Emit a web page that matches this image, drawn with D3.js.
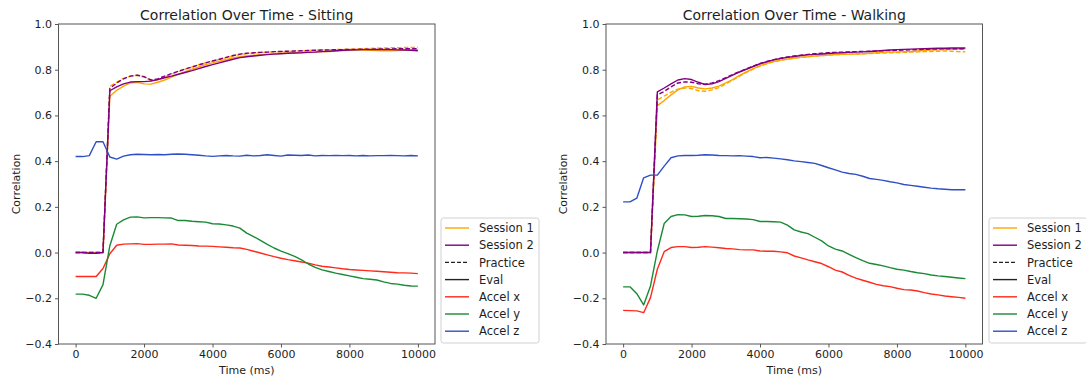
<!DOCTYPE html>
<html>
<head>
<meta charset="utf-8">
<script src="https://cdn.jsdelivr.net/npm/d3@7"></script>
<style>
  body { margin: 0; background: #fff; }
  svg { display: block; font-family: "DejaVu Sans", sans-serif; }
</style>
</head>
<body>
<svg id="chart" width="1086" height="381"></svg>
<script>
// ---------------- DATA ----------------
const timeMs = [0,200,400,600,800,1000,1200,1400,1600,1800,2000,2200,2400,2600,2800,3000,3200,3400,3600,3800,4000,4200,4400,4600,4800,5000,5200,5400,5600,5800,6000,6200,6400,6600,6800,7000,7200,7400,7600,7800,8000,8200,8400,8600,8800,9000,9200,9400,9600,9800,10000];
const xTicks = [0,2000,4000,6000,8000,10000];
const yTicks = [-0.4,-0.2,0.0,0.2,0.4,0.6,0.8,1.0];
const legendLabels = ["Session 1","Session 2","Practice","Eval","Accel x","Accel y","Accel z"];

// Sitting
const sitS1Eval = [0,0,0,0,0,0.684,0.71,0.728,0.742,0.745,0.738,0.737,0.745,0.755,0.768,0.78,0.792,0.802,0.812,0.822,0.83,0.837,0.845,0.852,0.857,0.86,0.863,0.866,0.868,0.87,0.872,0.873,0.874,0.876,0.877,0.878,0.879,0.88,0.882,0.884,0.885,0.886,0.886,0.885,0.884,0.883,0.883,0.884,0.886,0.887,0.888];
const sitS2Eval = [0,0,-0.003,-0.003,0,0.708,0.725,0.738,0.746,0.748,0.748,0.75,0.757,0.765,0.772,0.78,0.788,0.796,0.805,0.814,0.822,0.83,0.838,0.846,0.853,0.857,0.86,0.863,0.866,0.868,0.87,0.872,0.873,0.874,0.876,0.877,0.879,0.881,0.883,0.885,0.886,0.887,0.888,0.888,0.888,0.888,0.888,0.887,0.886,0.885,0.883];
const sitS1Prac = [0,0,0,0,0,0.728,0.745,0.762,0.772,0.776,0.768,0.752,0.755,0.768,0.78,0.792,0.802,0.812,0.822,0.83,0.838,0.845,0.853,0.86,0.866,0.87,0.873,0.875,0.877,0.878,0.879,0.88,0.881,0.882,0.884,0.885,0.886,0.887,0.888,0.889,0.89,0.891,0.892,0.893,0.894,0.895,0.896,0.896,0.897,0.897,0.898];
const sitS2Prac = [0,0,0,0,0,0.718,0.742,0.76,0.772,0.776,0.77,0.755,0.76,0.772,0.783,0.793,0.803,0.812,0.821,0.83,0.838,0.846,0.854,0.862,0.868,0.872,0.874,0.876,0.877,0.879,0.88,0.881,0.882,0.883,0.884,0.885,0.886,0.887,0.888,0.888,0.889,0.889,0.89,0.89,0.891,0.891,0.891,0.892,0.892,0.892,0.892];
const sitAccX = [-0.105,-0.105,-0.105,-0.105,-0.07,-0.005,0.032,0.037,0.038,0.039,0.036,0.036,0.037,0.037,0.038,0.033,0.032,0.031,0.029,0.028,0.027,0.025,0.023,0.021,0.02,0.014,0.006,-0.002,-0.01,-0.018,-0.025,-0.031,-0.036,-0.041,-0.046,-0.054,-0.06,-0.063,-0.067,-0.071,-0.074,-0.076,-0.078,-0.08,-0.082,-0.084,-0.086,-0.088,-0.089,-0.09,-0.092];
const sitAccY = [-0.182,-0.182,-0.187,-0.2,-0.14,0.03,0.124,0.143,0.155,0.156,0.152,0.153,0.153,0.152,0.151,0.14,0.14,0.137,0.135,0.133,0.126,0.125,0.121,0.116,0.107,0.085,0.07,0.053,0.036,0.02,0.006,-0.005,-0.017,-0.032,-0.05,-0.065,-0.076,-0.083,-0.09,-0.096,-0.102,-0.108,-0.114,-0.117,-0.12,-0.128,-0.135,-0.138,-0.143,-0.146,-0.147];
const sitAccZ = [0.42,0.42,0.424,0.485,0.485,0.418,0.409,0.422,0.428,0.43,0.429,0.428,0.429,0.428,0.43,0.431,0.43,0.428,0.426,0.423,0.421,0.423,0.425,0.423,0.422,0.426,0.423,0.425,0.428,0.425,0.422,0.427,0.426,0.425,0.427,0.423,0.425,0.424,0.425,0.424,0.425,0.423,0.425,0.423,0.424,0.424,0.425,0.424,0.423,0.425,0.423];

// Walking
const walkS1Eval = [0,0,0,0,0,0.643,0.665,0.69,0.712,0.725,0.727,0.72,0.716,0.72,0.728,0.742,0.757,0.775,0.79,0.805,0.818,0.828,0.836,0.842,0.847,0.851,0.855,0.857,0.86,0.862,0.864,0.866,0.867,0.868,0.869,0.87,0.872,0.874,0.876,0.877,0.878,0.879,0.88,0.882,0.884,0.886,0.887,0.888,0.889,0.89,0.891];
const walkS2Eval = [0,0,0,0,0,0.703,0.72,0.738,0.755,0.761,0.757,0.745,0.735,0.738,0.748,0.762,0.776,0.79,0.802,0.814,0.826,0.835,0.843,0.849,0.854,0.858,0.862,0.865,0.867,0.869,0.871,0.873,0.874,0.876,0.877,0.878,0.88,0.882,0.884,0.886,0.888,0.889,0.89,0.891,0.892,0.893,0.894,0.894,0.895,0.895,0.895];
const walkS1Prac = [0,0,0,0,0,0.668,0.685,0.702,0.715,0.72,0.718,0.708,0.706,0.712,0.722,0.738,0.754,0.772,0.788,0.803,0.816,0.826,0.835,0.841,0.846,0.85,0.854,0.857,0.86,0.862,0.864,0.866,0.867,0.868,0.869,0.87,0.871,0.872,0.873,0.874,0.875,0.876,0.877,0.878,0.879,0.88,0.881,0.882,0.881,0.879,0.878];
const walkS2Prac = [0,0,0,0,0,0.69,0.705,0.725,0.742,0.747,0.745,0.738,0.737,0.742,0.752,0.765,0.779,0.792,0.804,0.816,0.827,0.836,0.844,0.85,0.856,0.86,0.864,0.867,0.87,0.872,0.874,0.876,0.877,0.878,0.879,0.88,0.881,0.882,0.883,0.884,0.885,0.886,0.887,0.888,0.889,0.89,0.891,0.892,0.892,0.892,0.892];
const walkAccX = [-0.253,-0.254,-0.255,-0.263,-0.197,-0.073,0.004,0.022,0.026,0.026,0.022,0.023,0.026,0.024,0.021,0.018,0.016,0.013,0.012,0.012,0.007,0.006,0.006,0.003,-0.001,-0.015,-0.023,-0.032,-0.04,-0.048,-0.062,-0.077,-0.085,-0.1,-0.112,-0.121,-0.13,-0.139,-0.145,-0.149,-0.156,-0.162,-0.164,-0.168,-0.175,-0.181,-0.185,-0.19,-0.193,-0.196,-0.2];
const walkAccY = [-0.15,-0.15,-0.18,-0.229,-0.146,0.007,0.127,0.158,0.166,0.165,0.158,0.159,0.162,0.161,0.158,0.149,0.149,0.148,0.147,0.144,0.136,0.136,0.135,0.133,0.12,0.099,0.09,0.083,0.067,0.051,0.029,0.015,0.007,-0.008,-0.022,-0.035,-0.047,-0.052,-0.058,-0.066,-0.073,-0.077,-0.083,-0.088,-0.092,-0.098,-0.102,-0.105,-0.108,-0.111,-0.114];
const walkAccZ = [0.222,0.222,0.238,0.327,0.339,0.339,0.378,0.415,0.423,0.425,0.425,0.426,0.428,0.427,0.425,0.424,0.423,0.424,0.422,0.42,0.415,0.416,0.413,0.41,0.406,0.401,0.398,0.394,0.39,0.381,0.371,0.362,0.352,0.346,0.342,0.334,0.324,0.32,0.316,0.31,0.305,0.298,0.294,0.29,0.286,0.282,0.279,0.277,0.275,0.275,0.275];

// ---------------- STYLE ----------------
const C_S1 = "#ffa500", C_S2 = "#800080", C_X = "#ff2a1a", C_Y = "#1a8a35", C_Z = "#2f4fc4";
const TXT = "#1e1e1e";

const svg = d3.select("#chart");

function panel(opt) {
  const g = svg.append("g");
  const x = d3.scaleLinear().domain([-500, 10500]).range([opt.left, opt.right]);
  const y = d3.scaleLinear().domain([-0.4, 1.0]).range([344, 24]);

  const line = vals => d3.line().x((d, i) => x(timeMs[i])).y(d => y(d))(vals);

  const series = [
    {v: opt.s1p, c: C_S1, dash: "4.5,2.2"},
    {v: opt.s1e, c: C_S1},
    {v: opt.s2p, c: C_S2, dash: "4.5,2.2"},
    {v: opt.s2e, c: C_S2},
    {v: opt.ax, c: C_X},
    {v: opt.ay, c: C_Y},
    {v: opt.az, c: C_Z}
  ];
  const clipId = "clip" + opt.left;
  svg.append("clipPath").attr("id", clipId).append("rect")
    .attr("x", opt.left).attr("y", 24).attr("width", opt.right - opt.left).attr("height", 320);
  const lg = g.append("g").attr("clip-path", `url(#${clipId})`);
  series.forEach(s => {
    lg.append("path").attr("d", line(s.v)).attr("fill", "none")
      .attr("stroke", s.c).attr("stroke-width", 1.4)
      .attr("stroke-linejoin", "round")
      .attr("stroke-dasharray", s.dash || null);
  });

  // axes
  const xa = g.append("g").attr("transform", "translate(0,344)")
    .call(d3.axisBottom(x).tickValues(xTicks).tickSize(3.5).tickPadding(3).tickFormat(d3.format("d")));
  const ya = g.append("g").attr("transform", `translate(${opt.left},0)`)
    .call(d3.axisLeft(y).tickValues(yTicks).tickSize(3.5).tickPadding(3)
      .tickFormat(d => d3.format(".1f")(d).replace("-", "\u2212")));
  [xa, ya].forEach(a => {
    a.select(".domain").remove();
    a.selectAll("line").attr("stroke", "#444").attr("stroke-width", 0.9);
    a.selectAll("text").attr("fill", TXT).style("font-size", "11px").style("font-family", "DejaVu Sans");
  });
  g.append("rect").attr("x", opt.left).attr("y", 24)
    .attr("width", opt.right - opt.left).attr("height", 320)
    .attr("fill", "none").attr("stroke", "#555").attr("stroke-width", 1);

  g.append("text").attr("x", (opt.left + opt.right) / 2).attr("y", 20)
    .attr("text-anchor", "middle").attr("fill", TXT).style("font-size", "14px").text(opt.title);
  g.append("text").attr("x", (opt.left + opt.right) / 2).attr("y", 374)
    .attr("text-anchor", "middle").attr("fill", TXT).style("font-size", "11px").text("Time (ms)");
  g.append("text").attr("transform", `translate(${opt.ylabX},184) rotate(-90)`)
    .attr("text-anchor", "middle").attr("dy", "0.35em").attr("fill", TXT).style("font-size", "11px").text("Correlation");

  // legend
  const L = g.append("g");
  L.append("rect").attr("x", opt.legX).attr("y", 218).attr("width", 98).attr("height", 125)
    .attr("rx", 2.5).attr("fill", "#fff").attr("stroke", "#d0d0d0").attr("stroke-width", 1);
  const legStyles = [
    {c: C_S1}, {c: C_S2}, {c: "#222", dash: "4,2"}, {c: "#222"}, {c: C_X}, {c: C_Y}, {c: C_Z}
  ];
  legendLabels.forEach((lab, i) => {
    const yy = 228 + i * 17.2;
    L.append("line").attr("x1", opt.legX + 4).attr("x2", opt.legX + 28).attr("y1", yy).attr("y2", yy)
      .attr("stroke", legStyles[i].c).attr("stroke-width", 1.4)
      .attr("stroke-dasharray", legStyles[i].dash || null);
    L.append("text").attr("x", opt.legX + 38).attr("y", yy).attr("dy", "0.36em")
      .attr("fill", TXT).style("font-size", "11.5px").text(lab);
  });
}

panel({left: 58.5, right: 435, title: "Correlation Over Time - Sitting", ylabX: 16, legX: 441,
  s1e: sitS1Eval, s2e: sitS2Eval, s1p: sitS1Prac, s2p: sitS2Prac, ax: sitAccX, ay: sitAccY, az: sitAccZ});
panel({left: 606, right: 982.5, title: "Correlation Over Time - Walking", ylabX: 563, legX: 989,
  s1e: walkS1Eval, s2e: walkS2Eval, s1p: walkS1Prac, s2p: walkS2Prac, ax: walkAccX, ay: walkAccY, az: walkAccZ});
</script>
</body>
</html>
